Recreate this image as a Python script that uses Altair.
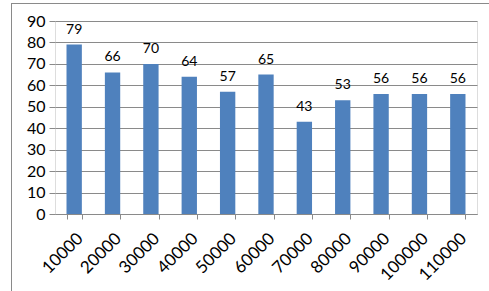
import altair as alt
import pandas as pd

categories = ["10000", "20000", "30000", "40000", "50000", "60000",
              "70000", "80000", "90000", "100000", "110000"]
values = [79, 66, 70, 64, 57, 65, 43, 53, 56, 56, 56]

df = pd.DataFrame({"cat": categories, "val": values})

FONT = "Lato"
GRID = "#8a8a8a"

base = alt.Chart(df).encode(
    x=alt.X("cat:N", sort=categories, title=None,
            scale=alt.Scale(paddingInner=0.6, paddingOuter=0.3),
            axis=alt.Axis(labelAngle=-45, labelFont=FONT, labelFontSize=17,
                          labelColor="#000000", tickBand="extent",
                          tickColor=GRID, domainColor=GRID, tickSize=5,
                          labelPadding=11, grid=False)),
    y=alt.Y("val:Q", title=None,
            scale=alt.Scale(domain=[0, 90], nice=False),
            axis=alt.Axis(values=list(range(0, 91, 10)), labelFont=FONT,
                          labelFontSize=16, labelColor="#000000",
                          domain=False, tickColor=GRID, tickSize=6,
                          gridColor=GRID, labelPadding=4)),
)

bars = base.mark_bar(color="#4F81BD")
labels = base.mark_text(baseline="bottom", dy=-8, font=FONT, fontSize=14,
                        color="#000000").encode(text="val:Q")

top_line = alt.Chart(df).mark_rule(stroke=GRID, strokeWidth=1,
                                   clip=False).encode(
    x=alt.value(-43.5), x2=alt.value(434), y=alt.value(-17.5))
left_line = alt.Chart(df).mark_rule(stroke=GRID, strokeWidth=1,
                                    clip=False).encode(
    x=alt.value(-43.5), y=alt.value(-17.5), y2=alt.value(270))

chart = alt.layer(top_line, left_line, bars, labels).properties(
    width=422, height=193,
    autosize=alt.AutoSizeParams(type="none"),
    padding={"left": 55, "top": 21, "right": 12, "bottom": 77},
).configure_view(stroke=None).configure(background="white")

chart.save("out.html", embed_options={"renderer": "svg", "actions": False})
